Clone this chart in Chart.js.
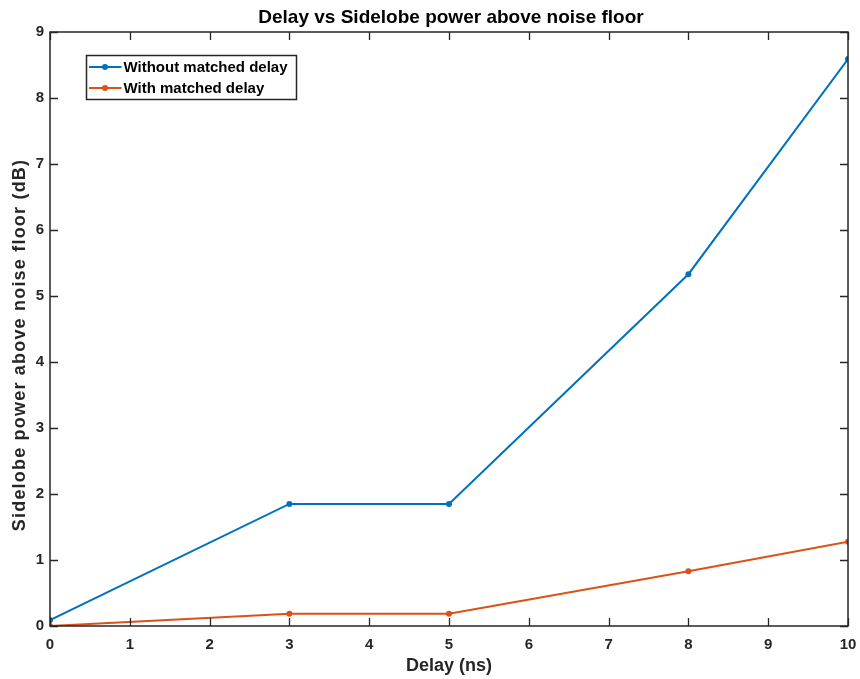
<!DOCTYPE html>
<html>
<head>
<meta charset="utf-8">
<script src="https://cdn.jsdelivr.net/npm/chart.js@4/dist/chart.umd.min.js"></script>
<style>
html,body{margin:0;padding:0;background:#fff;}
#wrap{width:860px;height:679px;}
</style>
</head>
<body>
<div id="wrap"><canvas id="c" width="860" height="679"></canvas></div>
<script>
const delays = [0, 3, 5, 8, 10];
const withoutMatched = [0.09, 1.85, 1.85, 5.33, 8.59];
const withMatched = [0.0, 0.185, 0.185, 0.83, 1.275];
const xTicks = [0,1,2,3,4,5,6,7,8,9,10];
const yTicks = [0,1,2,3,4,5,6,7,8,9];
const seriesNames = ['Without matched delay', 'With matched delay'];
const titleText = 'Delay vs Sidelobe power above noise floor';
const xTitle = 'Delay (ns)';
const yTitle = 'Sidelobe power above noise floor (dB)';

const BLUE = '#0072BD', ORANGE = '#D95319', AX = '#262626';
const FONT = '"Liberation Sans", Arial, Helvetica, sans-serif';

const boxPlugin = {
  id: 'box',
  afterDraw(chart) {
    const ctx = chart.ctx, a = chart.chartArea;
    const xs = chart.scales.x, ys = chart.scales.y;
    ctx.save();
    ctx.strokeStyle = AX;
    ctx.lineWidth = 1.5;
    ctx.strokeRect(a.left, a.top, a.right - a.left, a.bottom - a.top);
    ctx.lineWidth = 1.3;
    const tl = 8;
    ctx.beginPath();
    xTicks.forEach(v => {
      const px = Math.round(xs.getPixelForValue(v)) + 0.5;
      ctx.moveTo(px, a.bottom); ctx.lineTo(px, a.bottom - tl);
      ctx.moveTo(px, a.top); ctx.lineTo(px, a.top + tl);
    });
    yTicks.forEach(v => {
      const py = Math.round(ys.getPixelForValue(v)) + 0.5;
      ctx.moveTo(a.left, py); ctx.lineTo(a.left + tl, py);
      ctx.moveTo(a.right, py); ctx.lineTo(a.right - tl, py);
    });
    ctx.stroke();

    // legend
    const lx = 86.5, ly = 55.5, lw = 210, lh = 44;
    ctx.fillStyle = '#fff';
    ctx.fillRect(lx, ly, lw, lh);
    ctx.strokeStyle = AX;
    ctx.lineWidth = 1.5;
    ctx.strokeRect(lx, ly, lw, lh);
    const cols = [BLUE, ORANGE];
    ctx.font = 'bold 15px ' + FONT;
    ctx.textBaseline = 'middle';
    seriesNames.forEach((n, i) => {
      const y = 67 + i * 21;
      ctx.strokeStyle = cols[i]; ctx.lineWidth = 2;
      ctx.beginPath(); ctx.moveTo(89, y); ctx.lineTo(121.5, y); ctx.stroke();
      ctx.fillStyle = cols[i];
      ctx.beginPath(); ctx.arc(105, y, 3, 0, Math.PI * 2); ctx.fill();
      ctx.fillStyle = '#000';
      ctx.fillText(n, 123.5, y + 1);
    });

    // titles
    ctx.fillStyle = '#000';
    ctx.textAlign = 'center';
    ctx.textBaseline = 'middle';
    ctx.font = 'bold 19px ' + FONT;
    ctx.fillText(titleText, (a.left + a.right) / 2 + 2, 17.5);
    ctx.fillStyle = AX;
    ctx.font = 'bold 18px ' + FONT;
    ctx.fillText(xTitle, (a.left + a.right) / 2, 666);
    ctx.save();
    ctx.translate(20, (a.top + a.bottom) / 2 + 16);
    ctx.rotate(-Math.PI / 2);
    try { ctx.letterSpacing = '1.2px'; } catch (e) {}
    ctx.fillText(yTitle, 0, 0);
    ctx.restore();
    ctx.restore();
  }
};

new Chart(document.getElementById('c'), {
  type: 'line',
  data: {
    datasets: [
      { label: seriesNames[0], data: delays.map((d, i) => ({x: d, y: withoutMatched[i]})),
        borderColor: BLUE, backgroundColor: BLUE, borderWidth: 2, pointRadius: 3, pointBorderWidth: 0, tension: 0 },
      { label: seriesNames[1], data: delays.map((d, i) => ({x: d, y: withMatched[i]})),
        borderColor: ORANGE, backgroundColor: ORANGE, borderWidth: 2, pointRadius: 3, pointBorderWidth: 0, tension: 0 }
    ]
  },
  options: {
    responsive: false,
    animation: false,
    events: [],
    layout: { padding: { top: 32, right: 12, left: 0, bottom: 0 } },
    plugins: {
      legend: { display: false },
      tooltip: { enabled: false },
      title: { display: false }
    },
    scales: {
      x: {
        type: 'linear', min: 0, max: 10,
        afterBuildTicks: s => { s.ticks = xTicks.map(v => ({value: v})); },
        afterFit: s => { s.height = 53; s.paddingLeft = 0; s.paddingRight = 0; },
        grid: { display: false, drawTicks: false },
        border: { display: false },
        ticks: { color: AX, font: { family: FONT, size: 15, weight: 'bold' }, padding: 10, maxRotation: 0 },
        title: { display: false }
      },
      y: {
        type: 'linear', min: 0, max: 9,
        afterBuildTicks: s => { s.ticks = yTicks.map(v => ({value: v})); },
        afterFit: s => { s.width = 50; s.paddingTop = 0; s.paddingBottom = 0; },
        grid: { display: false, drawTicks: false },
        border: { display: false },
        ticks: { color: AX, font: { family: FONT, size: 15, weight: 'bold' }, padding: 6 },
        title: { display: false }
      }
    }
  },
  plugins: [boxPlugin]
});
</script>
</body>
</html>
